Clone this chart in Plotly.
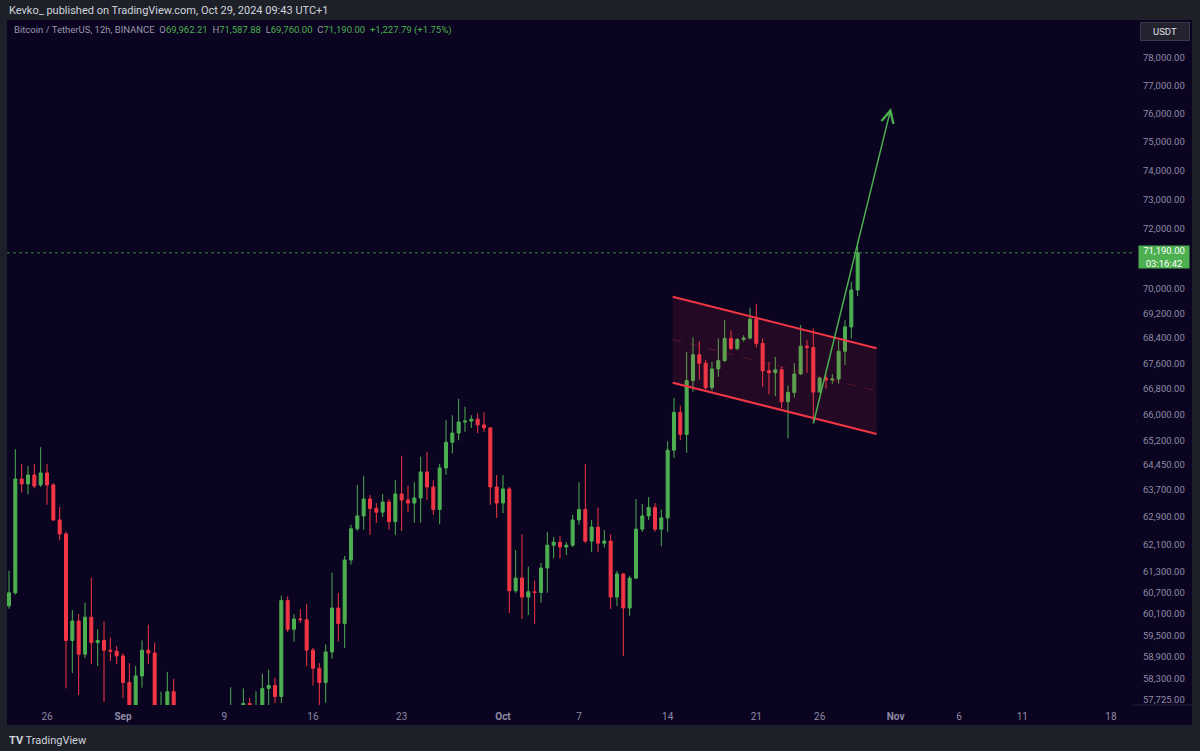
import math
import pandas as pd
import plotly.graph_objects as go

# ---------------- data (BTC/USDT 12h) ----------------
opens = [60330, 60700, 64030, 63880, 64150, 63850, 64210, 63850, 62810, 62400,
         59360, 59900, 58980, 60010, 59300, 59360, 59090, 59060, 58930, 58200,
         57400, 58380, 59090, 59010, 57300, 57450, 57950, 57400, 56150, 56300,
         53950, 54300, 54150, 54400, 54850, 55300, 57050, 57200, 57630, 57100,
         57350, 58040, 58120, 57820, 60480, 59670, 59960, 59940, 59090, 58590,
         58200, 59040, 60270, 59830, 61640, 62550, 62930, 63430, 63150, 63040,
         63340, 62760, 63580, 63400, 63310, 63460, 64240, 63790, 63120, 64360,
         65140, 65420, 65760, 65790, 65850, 65670, 65580, 63790, 63310, 63730,
         60760, 61120, 60580, 60730, 60710, 61410, 62070, 62160, 62020, 62070,
         62810, 63120, 62190, 62600, 62130, 62190, 60580, 61240, 60270, 61120,
         62540, 62930, 63180, 62540, 62870, 64900, 66060, 65380, 67050, 67870,
         67600, 66830, 67420, 67680, 68390, 68070, 68360, 68400, 69010, 68230,
         67360, 67300, 67390, 66390, 66680, 67260, 68140, 68100, 66690, 67130,
         67070, 67100, 67980, 68760, 69962.21]
highs = [61330, 64930, 64480, 64420, 64480, 64990, 64480, 63900, 63200, 62460,
         60210, 60100, 60420, 61130, 59670, 59900, 59440, 59200, 59000, 58730,
         58650, 59360, 59800, 59300, 57950, 58490, 58300, 57550, 56900, 56600,
         54800, 54850, 54700, 55300, 55600, 58070, 57450, 58040, 57780, 57960,
         58440, 58550, 58330, 60620, 60600, 60100, 60240, 60390, 59150, 58730,
         59250, 61270, 60700, 61760, 62670, 63850, 64120, 63550, 63310, 63580,
         63430, 63990, 64730, 63820, 63930, 64700, 64850, 63990, 64480, 65820,
         65970, 66480, 66230, 65970, 66030, 66060, 65600, 64150, 64150, 63790,
         61930, 62390, 61450, 61050, 61560, 62460, 62310, 62340, 62160, 62960,
         63930, 64480, 62810, 63180, 62510, 62390, 61330, 61270, 61190, 63430,
         63280, 63490, 63310, 63120, 65170, 66510, 66270, 67950, 68420, 68290,
         67700, 67640, 68390, 68980, 68650, 68390, 68490, 69380, 69510, 68390,
         67640, 67800, 67490, 66900, 67600, 68820, 68330, 68710, 67160, 67230,
         67260, 68330, 68980, 70230, 71587.88]
lows = [60250, 60650, 63620, 63570, 63750, 63790, 63260, 62780, 62220, 58040,
        58460, 57860, 58870, 58700, 58650, 57670, 58790, 58700, 57780, 57100,
        57200, 58060, 58700, 57000, 56950, 57300, 57200, 55700, 55800, 52550,
        53700, 53800, 53650, 54200, 54600, 55200, 56500, 56900, 56800, 55550,
        57000, 57400, 57640, 57640, 59590, 59330, 59850, 58650, 58120, 57500,
        57650, 58850, 59330, 59150, 61510, 62490, 62520, 62370, 62720, 62900,
        62520, 62370, 62490, 63040, 62730, 62730, 63400, 62960, 62680, 64150,
        64800, 65200, 65460, 65580, 65420, 65460, 63260, 62870, 63010, 60130,
        60700, 59960, 60070, 59820, 60420, 60700, 61690, 61690, 61780, 62020,
        62670, 62130, 61870, 61870, 62000, 60240, 60330, 58930, 60050, 61090,
        62460, 62810, 62460, 62040, 62460, 64660, 65200, 64820, 66700, 67080,
        66770, 66740, 67170, 67640, 68010, 68010, 68290, 68360, 68100, 66860,
        66620, 66560, 66190, 65260, 66520, 67230, 67300, 65730, 66690, 66800,
        66950, 66950, 67540, 68390, 69760.00]
closes = [60700, 64030, 63880, 64150, 63820, 64210, 63850, 62810, 62400, 59360,
          59900, 58980, 60010, 59300, 59360, 59090, 59060, 58930, 58200, 57400,
          58380, 59090, 59010, 57300, 57450, 57950, 57400, 56150, 56300, 53950,
          54300, 54150, 54400, 54850, 55300, 57050, 57200, 57630, 57100, 57350,
          58040, 58120, 57820, 60480, 59670, 59960, 59940, 59090, 58590, 58200,
          59040, 60270, 59830, 61640, 62550, 62930, 63430, 63150, 63040, 63340,
          62760, 63580, 63400, 63310, 63460, 64240, 63790, 63120, 64360, 65140,
          65420, 65760, 65790, 65850, 65670, 65580, 63790, 63310, 63730, 60760,
          61120, 60580, 60730, 60710, 61410, 62070, 62160, 62020, 62070, 62810,
          63120, 62190, 62600, 62130, 62190, 60580, 61240, 60270, 61120, 62540,
          62930, 63180, 62540, 62870, 64900, 66060, 65380, 67050, 67870, 67600,
          66830, 67420, 67680, 68390, 68070, 68360, 68400, 69010, 68230, 67360,
          67300, 67390, 66390, 66680, 67260, 68140, 68100, 66690, 67130, 67070,
          67100, 67980, 68760, 69962.21, 71190.00]
# 12h bars: 23 Aug 2024 00:00 ... 29 Oct 2024 00:00
bar_times = pd.date_range("2024-08-23 00:00", periods=len(opens), freq="12h")

x_tick_dates = ["2024-08-26", "2024-09-01", "2024-09-09", "2024-09-16", "2024-09-23",
                "2024-10-01", "2024-10-07", "2024-10-14", "2024-10-21", "2024-10-26",
                "2024-11-01", "2024-11-06", "2024-11-11", "2024-11-18"]
x_tick_text = ["26", "<b>Sep</b>", "9", "16", "23", "<b>Oct</b>", "7", "14", "21",
               "26", "<b>Nov</b>", "6", "11", "18"]
y_tick_vals = [78000, 77000, 76000, 75000, 74000, 73000, 72000, 70000, 69200,
               68400, 67600, 66800, 66000, 65200, 64450, 63700, 62900, 62100,
               61300, 60700, 60100, 59500, 58900, 58300, 57725]

last_price = 71190.00
countdown = "03:16:42"

# drawings (time, price)
channel_upper = [("2024-10-14 09:36", 69740), ("2024-10-30 12:00", 68075)]
channel_lower = [("2024-10-14 09:36", 66985), ("2024-10-30 12:00", 65393)]
channel_mid = [("2024-10-14 09:36", 68350), ("2024-10-30 12:00", 66725)]
arrow_tail = ("2024-10-25 11:24", 65670)
arrow_head = ("2024-10-31 15:14", 76193)

# visible window
x_range = ["2024-08-22 20:12", "2024-11-19 17:45"]
y_range = [math.log10(57590), math.log10(79402)]

# ---------------- styling ----------------
NAVY = "#0a0420"
FRAME = "#1e2029"
GREEN = "#4caf50"
RED = "#f23645"
AXIS_TXT = "#8f8ba6"
FONT = "Roboto, Liberation Sans, sans-serif"

fig = go.Figure()

# channel fill + median
fig.add_trace(go.Scatter(
    x=[channel_upper[0][0], channel_upper[1][0], channel_lower[1][0], channel_lower[0][0]],
    y=[channel_upper[0][1], channel_upper[1][1], channel_lower[1][1], channel_lower[0][1]],
    fill="toself", fillcolor="rgba(242,54,69,0.11)", mode="lines",
    line=dict(width=0), hoverinfo="skip", showlegend=False))
fig.add_trace(go.Scatter(
    x=[p[0] for p in channel_mid], y=[p[1] for p in channel_mid], mode="lines",
    line=dict(color="rgba(242,54,69,0.28)", width=1, dash="dash"),
    hoverinfo="skip", showlegend=False))

# current price dotted line
fig.add_trace(go.Scatter(
    x=x_range, y=[last_price, last_price], mode="lines",
    line=dict(color="rgba(76,175,80,0.75)", width=1, dash="dot"),
    hoverinfo="skip", showlegend=False))

fig.add_trace(go.Candlestick(
    x=bar_times, open=opens, high=highs, low=lows, close=closes,
    increasing=dict(line=dict(color=GREEN, width=1), fillcolor=GREEN),
    decreasing=dict(line=dict(color=RED, width=1), fillcolor=RED),
    whiskerwidth=0, showlegend=False))

for line in (channel_upper, channel_lower):
    fig.add_trace(go.Scatter(
        x=[p[0] for p in line], y=[p[1] for p in line], mode="lines",
        line=dict(color=RED, width=2), hoverinfo="skip", showlegend=False))

annotations = []
annotations.append(dict(
    x=arrow_head[0], y=math.log10(arrow_head[1]), xref="x", yref="y",
    ax=arrow_tail[0], ay=math.log10(arrow_tail[1]), axref="x", ayref="y",
    text="", showarrow=True, arrowhead=5, arrowsize=1.6, arrowwidth=1.5,
    arrowcolor=GREEN, standoff=0, startstandoff=0))

pw = 1126.0
ph = 685.0
def px_x(px):
    return (px - 7) / pw
def px_y(py):
    return 1 - (py - 20) / ph

annotations.append(dict(
    x=px_x(7), y=px_y(10), xref="paper", yref="paper", xanchor="left", yanchor="middle",
    text="Kevko_ published on TradingView.com, Oct 29, 2024 09:43 UTC+1",
    showarrow=False, font=dict(family=FONT, size=11, color="#d1d4dc")))
g = lambda s: f"<span style='color:{GREEN}'>{s}</span>"
legend = ("Bitcoin / TetherUS, 12h, BINANCE  "
          f"O{g('69,962.21')}  H{g('71,587.88')}  L{g('69,760.00')}  C{g('71,190.00')}  "
          f"{g('+1,227.79 (+1.75%)')}")
annotations.append(dict(
    x=px_x(12), y=px_y(30), xref="paper", yref="paper", xanchor="left", yanchor="middle",
    text=legend, showarrow=False, font=dict(family=FONT, size=9.5, color="#9a97ad")))

annotations.append(dict(
    x=px_x(1165), y=px_y(31), xref="paper", yref="paper", xanchor="center", yanchor="middle",
    text="USDT", showarrow=False, width=46, height=15, bgcolor="#23222f",
    bordercolor="#3a3947", borderwidth=1, font=dict(family=FONT, size=9.5, color="#e0e0e8")))
annotations.append(dict(
    x=px_x(1164), y=math.log10(last_price), xref="paper", yref="y", xanchor="center",
    yanchor="top", yshift=8,
    text=f"{last_price:,.2f}<br>{countdown}", showarrow=False, width=50, height=22,
    bgcolor=GREEN, borderpad=0, font=dict(family=FONT, size=9.5, color="#ffffff")))

annotations.append(dict(
    x=px_x(7), y=px_y(740), xref="paper", yref="paper", xanchor="left", yanchor="middle",
    text="<b>TV</b> TradingView", showarrow=False,
    font=dict(family=FONT, size=11, color="#d1d4dc")))

shapes = [
    dict(type="rect", xref="paper", yref="paper", x0=px_x(7), x1=px_x(1192),
         y0=px_y(725), y1=px_y(20), fillcolor=NAVY, line=dict(width=0), layer="below"),
    dict(type="line", xref="paper", yref="paper", x0=px_x(1133), x1=px_x(1192),
         y0=px_y(705), y1=px_y(705), line=dict(color="#26243a", width=1), layer="below"),
]

fig.update_layout(
    width=1200, height=751,
    margin=dict(l=7, r=67, t=20, b=46),
    paper_bgcolor=FRAME, plot_bgcolor=NAVY,
    font=dict(family=FONT, color=AXIS_TXT),
    showlegend=False,
    annotations=annotations, shapes=shapes,
    boxgap=0.32,
    xaxis=dict(type="date", range=x_range, showgrid=False, zeroline=False, showline=False,
               tickvals=x_tick_dates, ticktext=x_tick_text, ticks="",
               tickfont=dict(family=FONT, size=10, color=AXIS_TXT),
               ticklabelstandoff=4, rangeslider=dict(visible=False), fixedrange=True),
    yaxis=dict(type="log", range=y_range, side="right", showgrid=False, zeroline=False,
               showline=False, tickvals=y_tick_vals,
               ticktext=[f"{v:,.2f}" for v in y_tick_vals], ticks="",
               tickfont=dict(family=FONT, size=9.5, color=AXIS_TXT),
               ticklabelstandoff=9, fixedrange=True),
)

fig.write_html("out.html")
